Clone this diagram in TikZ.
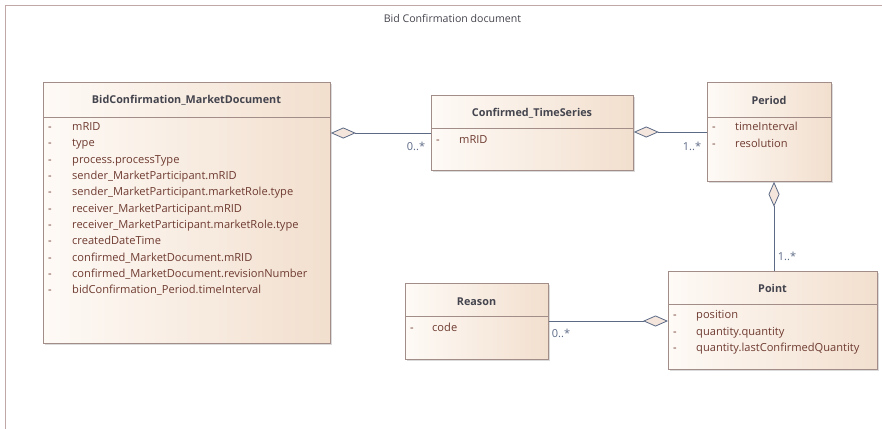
\documentclass[tikz,border=0pt]{standalone}
\usepackage{fontspec}
\setmainfont{Open Sans}
\usetikzlibrary{shadows,arrows.meta,calc}
\definecolor{boxc}{HTML}{A38D88}
\definecolor{fillL}{HTML}{FEFAF6}
\definecolor{fillR}{HTML}{F2DFCE}
\definecolor{titc}{HTML}{44444E}
\definecolor{attc}{HTML}{6E3A30}
\definecolor{linec}{HTML}{5C6A86}
\definecolor{framec}{HTML}{C0A8A8}
\definecolor{diaf}{HTML}{F4E6DC}
\tikzset{
  cls/.style={draw=boxc, line width=0.8pt, left color=fillL, right color=fillR, rectangle, inner sep=0pt, anchor=north west,
    drop shadow={shadow xshift=2pt, shadow yshift=-2pt, fill=black!40, opacity=0.35}},
  divider/.style={draw=boxc, line width=0.8pt},
  ctitle/.style={font=\fontsize{10.8}{12}\selectfont\bfseries, text=titc, inner sep=0pt},
  attr/.style={font=\fontsize{11.1}{12}\selectfont, text=attc, anchor=west, inner sep=0pt, text height=7.8pt, text depth=2.6pt},
  dashmark/.style={attr},
  conn/.style={draw=linec, line width=0.8pt},
  agg/.style={conn, {Diamond[open, length=25pt, width=11pt, fill=diaf, line width=0.8pt]}-},
  mult/.style={font=\fontsize{11}{12}\selectfont, text=linec, inner sep=0pt},
  frametitle/.style={font=\fontsize{10.6}{12}\selectfont, text=titc, inner sep=0pt}
}
\begin{document}
\begin{tikzpicture}[x=1pt,y=-1pt]
\useasboundingbox (0,0) rectangle (882,428);
% frame
\coordinate (fbl) at (5,430);
\coordinate (ftl) at (5,6);
\coordinate (ftr) at (884,6);
\draw[draw=framec, line width=1pt] (fbl) -- (ftl) -- (ftr);
\node[frametitle] (ftitle) at (452.5,18) {Bid Confirmation document};

% BidConfirmation_MarketDocument
\node[cls, minimum width=287pt, minimum height=261pt] (doc) at (43,82) {};
\draw[divider] ($(doc.north west)+(0,35)$) -- ($(doc.north east)+(0,35)$);
\node[ctitle] (doct) at (186.5,100) {BidConfirmation\_MarketDocument};
\foreach \t [count=\i from 0] in {mRID,type,process.processType,sender\_MarketParticipant.mRID,sender\_MarketParticipant.marketRole.type,receiver\_MarketParticipant.mRID,receiver\_MarketParticipant.marketRole.type,createdDateTime,confirmed\_MarketDocument.mRID,confirmed\_MarketDocument.revisionNumber,bidConfirmation\_Period.timeInterval}{
  \node[dashmark] (docd\i) at (48,128+16.3*\i) {-};
  \node[attr] (doca\i) at (72,128+16.3*\i) {\t};
}

% Confirmed_TimeSeries
\node[cls, minimum width=202pt, minimum height=75pt] (ts) at (431,95) {};
\draw[divider] ($(ts.north west)+(0,33)$) -- ($(ts.north east)+(0,33)$);
\node[ctitle] (tst) at (532,113) {Confirmed\_TimeSeries};
\node[dashmark] (tsd0) at (436,141) {-};
\node[attr] (tsa0) at (459,141) {mRID};

% Period
\node[cls, minimum width=124pt, minimum height=99pt] (per) at (707,82) {};
\draw[divider] ($(per.north west)+(0,35)$) -- ($(per.north east)+(0,35)$);
\node[ctitle] (pert) at (769,100) {Period};
\node[dashmark] (perd0) at (712,128) {-};
\node[attr] (pera0) at (735,128) {timeInterval};
\node[dashmark] (perd1) at (712,145) {-};
\node[attr] (pera1) at (735,145) {resolution};

% Point
\node[cls, minimum width=209pt, minimum height=98pt] (pt) at (668,271) {};
\draw[divider] ($(pt.north west)+(0,33)$) -- ($(pt.north east)+(0,33)$);
\node[ctitle] (ptt) at (772.5,288) {Point};
\node[dashmark] (ptd0) at (673,316) {-};
\node[attr] (pta0) at (696,316) {position};
\node[dashmark] (ptd1) at (673,332.5) {-};
\node[attr] (pta1) at (696,332.5) {quantity.quantity};
\node[dashmark] (ptd2) at (673,349) {-};
\node[attr] (pta2) at (696,349) {quantity.lastConfirmedQuantity};

% Reason
\node[cls, minimum width=143pt, minimum height=76pt] (rea) at (405,283) {};
\draw[divider] ($(rea.north west)+(0,33)$) -- ($(rea.north east)+(0,33)$);
\node[ctitle] (reat) at (476.5,302) {Reason};
\node[dashmark] (read0) at (410,329) {-};
\node[attr] (reaa0) at (432,329) {code};

% connectors
\coordinate (c1a) at ($(doc.north east)+(0,51)$);
\draw[agg] (c1a) -- (c1a -| ts.west);
\node[mult] (m1) at (416,146) {0..*};

\coordinate (c2a) at ($(ts.north east)+(0,37)$);
\draw[agg] (c2a) -- (c2a -| per.west);
\node[mult] (m2) at (692,146) {1..*};

\coordinate (c3a) at ($(per.south west)+(67,0)$);
\draw[agg] (c3a) -- (c3a |- pt.north);
\node[mult] (m3) at (787,256) {1..*};

\coordinate (c4a) at ($(pt.north west)+(0,50)$);
\draw[agg] (c4a) -- (c4a -| rea.east);
\node[mult] (m4) at (561,333) {0..*};
\end{tikzpicture}
\end{document}
